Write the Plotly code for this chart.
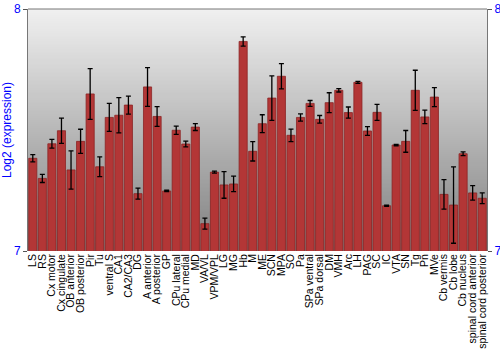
import plotly.graph_objects as go

categories = ["LS", "RS", "Cx motor", "Cx cingulate", "OB anterior", "OB posterior", "Pir", "Tu",
              "ventral S", "CA1", "CA2/CA3", "DG", "A anterior", "A posterior", "GP", "CPu lateral",
              "CPu medial", "MD", "VA/VL", "VPM/VPL", "LG", "MG", "Hb", "M", "ME", "SCN", "MPA",
              "SO", "Pa", "SPa ventral", "SPa dorsal", "DM", "VMH", "Arc", "LH", "PAG", "SC", "IC",
              "VTA", "SN", "Tg", "Pn", "MVe", "Cb vermis", "Cb lobe", "Cb nucleus",
              "spinal cord anterior", "spinal cord posterior"]
values = [7.383, 7.300, 7.443, 7.497, 7.335, 7.453, 7.649, 7.348,
          7.552, 7.561, 7.603, 7.237, 7.678, 7.556, 7.248, 7.499,
          7.442, 7.512, 7.113, 7.326, 7.273, 7.277, 7.866, 7.412, 7.526, 7.632, 7.722,
          7.478, 7.552, 7.610, 7.544, 7.613, 7.664, 7.572, 7.697, 7.496, 7.573, 7.187,
          7.438, 7.453, 7.664, 7.554, 7.636, 7.234, 7.190, 7.402,
          7.240, 7.218]
errors = [0.015, 0.017, 0.018, 0.052, 0.079, 0.050, 0.105, 0.041,
          0.058, 0.073, 0.037, 0.023, 0.080, 0.041, 0.003, 0.017,
          0.012, 0.014, 0.023, 0.004, 0.055, 0.032, 0.019, 0.040, 0.037, 0.092, 0.052,
          0.026, 0.015, 0.012, 0.016, 0.041, 0.007, 0.023, 0.004, 0.018, 0.033, 0.002,
          0.003, 0.045, 0.083, 0.028, 0.039, 0.061, 0.158, 0.008,
          0.030, 0.022]
y_range = [7, 8]
tick_vals = [7, 8]

fig = go.Figure()
fig.add_trace(go.Bar(
    x=categories, y=values,
    marker=dict(color="#b33636", line=dict(color="#8c2424", width=0.8)),
    error_y=dict(type="data", array=errors, color="black", thickness=1.3, width=2.5),
    hoverinfo="x+y",
))
fig.add_trace(go.Scatter(
    x=categories, y=values, yaxis="y2", mode="lines",
    line=dict(width=0), hoverinfo="skip", showlegend=False,
))

# vertical gray gradient background (style only)
n = 120
shapes = []
for i in range(n):
    t = i / (n - 1)
    top = (240, 240, 240)
    bot = (128, 128, 128)
    c = tuple(int(round(top[k] + (bot[k] - top[k]) * t)) for k in range(3))
    shapes.append(dict(type="rect", xref="paper", yref="paper",
                       x0=0, x1=1, y0=max(0, 1 - (i + 2) / n), y1=1 - i / n,
                       fillcolor="rgb(%d,%d,%d)" % c, line=dict(width=0), layer="below"))

axis_font = dict(family="Liberation Sans, Arial, sans-serif", size=12, color="#0000ff")
fig.update_layout(
    width=500, height=350,
    margin=dict(l=28, r=13, t=9, b=99),
    paper_bgcolor="white", plot_bgcolor="rgba(0,0,0,0)",
    showlegend=False,
    bargap=0.15,
    shapes=shapes,
    font=dict(family="Liberation Sans, Arial, sans-serif"),
    xaxis=dict(tickangle=-90, tickmode="array", tickvals=categories, ticktext=categories,
               range=[-0.5, len(categories) - 0.5],
               tickfont=dict(size=10.5, color="black",
                             family="Liberation Sans, Arial, sans-serif"),
               automargin=False,
               showgrid=False, ticks="", showline=False, zeroline=False),
    yaxis=dict(range=y_range, tickvals=tick_vals, tickfont=axis_font, automargin=False,
               title=dict(text="Log2 (expression)", font=axis_font, standoff=2),
               showgrid=False, zeroline=False, showline=True, linecolor="#777777",
               linewidth=1, ticks="outside", ticklen=4, tickcolor="#555555"),
    yaxis2=dict(range=y_range, tickvals=tick_vals, tickfont=axis_font, overlaying="y",
                automargin=False,
                side="right", showgrid=False, zeroline=False, showline=True,
                linecolor="#777777", linewidth=1, ticks="outside", ticklen=4,
                tickcolor="#555555"),
)
fig.add_shape(type="line", xref="paper", yref="paper", x0=0, x1=1, y0=1, y1=1,
              line=dict(color="#777777", width=1))
fig.write_html("out.html")
